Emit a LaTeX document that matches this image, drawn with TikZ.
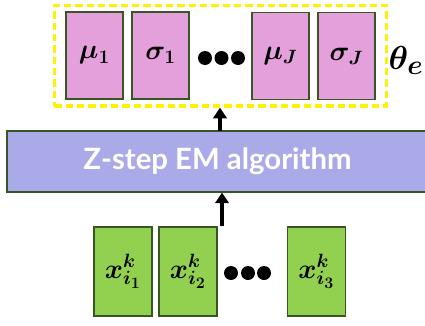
\documentclass[tikz,border=0pt]{standalone}
\usepackage{fontspec}
\usepackage{bm}
\usepackage{tikz}
\usetikzlibrary{fit,arrows.meta}
\newfontfamily\barfont{Lato}

\definecolor{parampink}{RGB}{228,160,218}
\definecolor{inputgreen}{RGB}{146,208,80}
\definecolor{barblue}{RGB}{170,170,232}
\definecolor{boxedge}{RGB}{56,86,35}

\tikzset{
  parambox/.style={draw=boxedge,fill=parampink,line width=0.8pt,
    minimum width=42.75pt,minimum height=65.25pt,inner sep=0pt,font=\huge},
  inputbox/.style={draw=boxedge,fill=inputgreen,line width=0.8pt,
    minimum width=43.5pt,minimum height=66.75pt,inner sep=0pt,font=\huge},
  dotmark/.style={circle,fill=black,inner sep=0pt,minimum size=10.5pt},
  flow/.style={line width=3pt,-{Triangle[length=8pt,width=10pt]}}
}

\begin{document}
\begin{tikzpicture}[x=0.75pt,y=-0.75pt]
  \useasboundingbox (0,0) rectangle (425,325);

  % parameters
  \node[parambox] (mu1) at (94.5,55.5) {$\bm{\mu_1}$};
  \node[parambox] (sigma1) at (160.5,55.5) {$\bm{\sigma_1}$};
  \node[parambox] (muJ) at (280.5,56) {$\bm{\mu_J}$};
  \node[parambox] (sigmaJ) at (346.5,56) {$\bm{\sigma_J}$};
  \foreach \x in {205,221.5,238}
    \node[dotmark] at (\x,58) {};
  \node[draw=yellow,line width=2.4pt,dash pattern=on 5.5pt off 3pt,
    inner xsep=8.25pt,inner ysep=4.5pt,fit=(mu1)(sigmaJ)] (theta) {};
  \node[font=\Huge] (thetalabel) at (406,60) {$\bm{\theta_e}$};

  % algorithm bar
  \node[draw=boxedge,fill=barblue,line width=0.8pt,minimum width=315.75pt,
    minimum height=45.75pt,font=\barfont\bfseries\fontsize{22}{26}\selectfont,
    text=white] (zstep) at (217.5,161.5) {Z-step EM algorithm};

  % inputs
  \node[inputbox] (x1) at (123,271.5) {$\bm{x^{k}_{i_1}}$};
  \node[inputbox] (x2) at (188,271.5) {$\bm{x^{k}_{i_2}}$};
  \node[inputbox] (x3) at (316.5,271.5) {$\bm{x^{k}_{i_3}}$};
  \foreach \x in {231,248,264}
    \node[dotmark] at (\x,273) {};

  \coordinate (in) at (222,226);
  \draw[flow] (in) -- (zstep.south -| in);
  \coordinate (out) at (220,131);
  \draw[flow] (out) -- (theta.south -| out);
\end{tikzpicture}
\end{document}
